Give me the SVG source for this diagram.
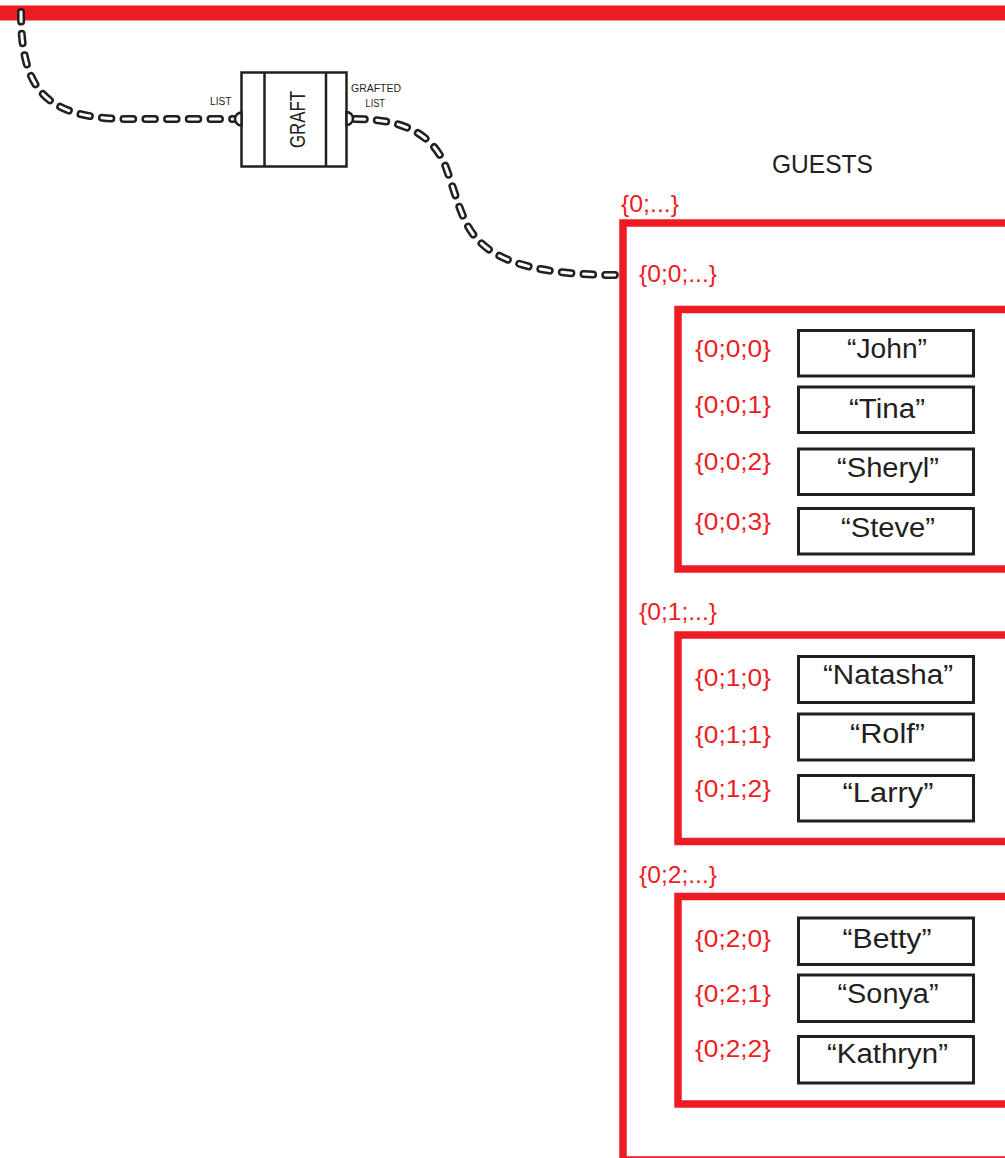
<svg xmlns="http://www.w3.org/2000/svg" width="1005" height="1158" viewBox="0 0 1005 1158">
<style>
  .frame { fill: none; stroke: #ed1c24; stroke-width: 7.5; }
  .box { fill: #ffffff; stroke: #231f20; stroke-width: 3; }
  .comp { fill: #ffffff; stroke: #231f20; stroke-width: 2.5; }
  .idx { font-family: "Liberation Sans", Arial, sans-serif; font-size: 24px; fill: #ed1c24; }
  .name { font-family: "Liberation Sans", Arial, sans-serif; font-size: 27px; fill: #231f20; text-anchor: middle; }
  .small { font-family: "Liberation Sans", Arial, sans-serif; font-size: 10px; fill: #231f20; }
  .title { font-family: "Liberation Sans", Arial, sans-serif; font-size: 25px; fill: #231f20; }
  .chainOut { fill: none; stroke: #231f20; stroke-width: 8; stroke-linecap: round; stroke-dasharray: 9.5 12.2; }
  .chainIn { fill: none; stroke: #ffffff; stroke-width: 3; stroke-linecap: round; stroke-dasharray: 9.5 12.2; }
</style>
<rect x="0" y="0" width="1005" height="1158" fill="#ffffff"/>
<rect id="topbar" x="0" y="5.5" width="1005" height="15" fill="#ed1c24"/>

<g id="guests">
  <text class="title" x="772" y="173" textLength="101" lengthAdjust="spacingAndGlyphs">GUESTS</text>
  <text class="idx" x="621" y="211.5" textLength="58" lengthAdjust="spacingAndGlyphs">{0;...}</text>
  <rect class="frame" x="623" y="223" width="500" height="937"/>
</g>

<g id="branch-0-0">
  <text class="idx" x="639" y="281.5" textLength="78" lengthAdjust="spacingAndGlyphs">{0;0;...}</text>
  <rect class="frame" x="678" y="309.5" width="400" height="259.5"/>
  <g id="item-0-0-0">
    <text class="idx" x="695" y="357" textLength="76" lengthAdjust="spacingAndGlyphs">{0;0;0}</text>
    <rect class="box" x="798.5" y="330.5" width="175" height="45.5"/>
    <text class="name" x="887" y="358" textLength="80" lengthAdjust="spacingAndGlyphs">“John”</text>
  </g>
  <g id="item-0-0-1">
    <text class="idx" x="695" y="413" textLength="76" lengthAdjust="spacingAndGlyphs">{0;0;1}</text>
    <rect class="box" x="798.5" y="387" width="175" height="45.5"/>
    <text class="name" x="887" y="417.5" textLength="76" lengthAdjust="spacingAndGlyphs">“Tina”</text>
  </g>
  <g id="item-0-0-2">
    <text class="idx" x="695" y="469.5" textLength="76" lengthAdjust="spacingAndGlyphs">{0;0;2}</text>
    <rect class="box" x="798.5" y="449" width="175" height="45.5"/>
    <text class="name" x="888" y="476.5" textLength="102" lengthAdjust="spacingAndGlyphs">“Sheryl”</text>
  </g>
  <g id="item-0-0-3">
    <text class="idx" x="695" y="530" textLength="76" lengthAdjust="spacingAndGlyphs">{0;0;3}</text>
    <rect class="box" x="798.5" y="508.5" width="175" height="45.5"/>
    <text class="name" x="888" y="536.5" textLength="94" lengthAdjust="spacingAndGlyphs">“Steve”</text>
  </g>
</g>

<g id="branch-0-1">
  <text class="idx" x="639" y="620" textLength="78" lengthAdjust="spacingAndGlyphs">{0;1;...}</text>
  <rect class="frame" x="678" y="635" width="400" height="206.5"/>
  <g id="item-0-1-0">
    <text class="idx" x="695" y="686" textLength="76" lengthAdjust="spacingAndGlyphs">{0;1;0}</text>
    <rect class="box" x="798.5" y="656.5" width="175" height="46"/>
    <text class="name" x="888" y="684" textLength="130" lengthAdjust="spacingAndGlyphs">“Natasha”</text>
  </g>
  <g id="item-0-1-1">
    <text class="idx" x="695" y="742.5" textLength="76" lengthAdjust="spacingAndGlyphs">{0;1;1}</text>
    <rect class="box" x="798.5" y="714" width="175" height="46"/>
    <text class="name" x="887.5" y="742.5" textLength="75" lengthAdjust="spacingAndGlyphs">“Rolf”</text>
  </g>
  <g id="item-0-1-2">
    <text class="idx" x="695" y="796.5" textLength="76" lengthAdjust="spacingAndGlyphs">{0;1;2}</text>
    <rect class="box" x="798.5" y="775.5" width="175" height="45.5"/>
    <text class="name" x="888" y="801.5" textLength="91" lengthAdjust="spacingAndGlyphs">“Larry”</text>
  </g>
</g>

<g id="branch-0-2">
  <text class="idx" x="639" y="883" textLength="78" lengthAdjust="spacingAndGlyphs">{0;2;...}</text>
  <rect class="frame" x="678" y="896.5" width="400" height="207.5"/>
  <g id="item-0-2-0">
    <text class="idx" x="695" y="946.5" textLength="76" lengthAdjust="spacingAndGlyphs">{0;2;0}</text>
    <rect class="box" x="798.5" y="918" width="175" height="46.5"/>
    <text class="name" x="887" y="948" textLength="89" lengthAdjust="spacingAndGlyphs">“Betty”</text>
  </g>
  <g id="item-0-2-1">
    <text class="idx" x="695" y="1001.5" textLength="76" lengthAdjust="spacingAndGlyphs">{0;2;1}</text>
    <rect class="box" x="798.5" y="975" width="175" height="46.5"/>
    <text class="name" x="888" y="1003" textLength="101" lengthAdjust="spacingAndGlyphs">“Sonya”</text>
  </g>
  <g id="item-0-2-2">
    <text class="idx" x="695" y="1057" textLength="76" lengthAdjust="spacingAndGlyphs">{0;2;2}</text>
    <rect class="box" x="798.5" y="1036.5" width="175" height="46.5"/>
    <text class="name" x="887.5" y="1063" textLength="121" lengthAdjust="spacingAndGlyphs">“Kathryn”</text>
  </g>
</g>

<g id="connectors">
  <path class="chainOut" d="M21,12 C21,90 45,119 130,119 L233,119"/>
  <path class="chainIn" d="M21,12 C21,90 45,119 130,119 L233,119"/>
  <path class="chainOut" d="M355,119 C405,119 432,135 445,165 C458,200 462,225 480,242 C500,262 540,275 616,275"/>
  <path class="chainIn" d="M355,119 C405,119 432,135 445,165 C458,200 462,225 480,242 C500,262 540,275 616,275"/>
</g>

<g id="graft">
  <rect class="comp" x="241.5" y="72.5" width="105" height="94"/>
  <line class="comp" x1="264.5" y1="72.5" x2="264.5" y2="166.5"/>
  <line class="comp" x1="326" y1="72.5" x2="326" y2="166.5"/>
  <text class="title" x="0" y="0" text-anchor="middle" transform="translate(304.5,119.5) rotate(-90)" textLength="57" lengthAdjust="spacingAndGlyphs" style="font-size:22px">GRAFT</text>
  <path class="comp" d="M241.5,112.5 A6.5,6.5 0 0 0 241.5,125.5 Z"/>
  <path class="comp" d="M346.5,112 A6.5,6.5 0 0 1 346.5,125 Z"/>
  <text class="small" x="210" y="105" textLength="21.5" lengthAdjust="spacingAndGlyphs">LIST</text>
  <text class="small" x="351" y="92" textLength="50" lengthAdjust="spacingAndGlyphs">GRAFTED</text>
  <text class="small" x="365.5" y="107" textLength="19.5" lengthAdjust="spacingAndGlyphs">LIST</text>
</g>
</svg>
